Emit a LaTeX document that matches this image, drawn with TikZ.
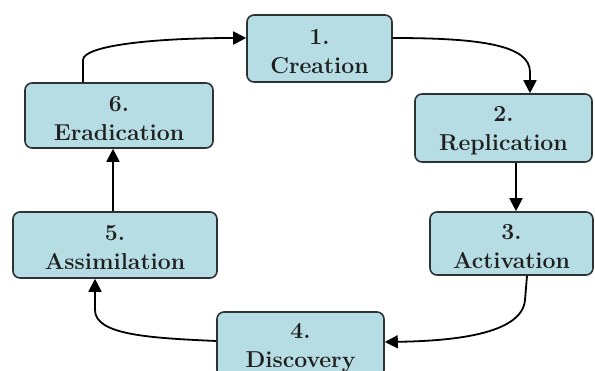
\documentclass[tikz,border=0pt]{standalone}
\usepackage{fontspec}
\usetikzlibrary{arrows.meta}
\definecolor{boxfill}{RGB}{182,220,228}
\definecolor{boxline}{RGB}{45,50,52}
\newcommand{\stagefont}{\fontsize{23pt}{29pt}\selectfont\bfseries}
\newcommand{\topstrut}{\rule{0pt}{21pt}}
\begin{document}
\begin{tikzpicture}[x=1pt,y=-1pt,
 stage/.style={draw=boxline, line width=1.6pt, fill=boxfill, rounded corners=7pt,
   text width=#1, align=center, font=\stagefont, inner sep=0pt, text=black!88},
 flow/.style={line width=1.8pt, -{Triangle[length=13pt,width=13pt]}}]
\clip (0,0) rectangle (595,370);
\fill[white] (0,0) rectangle (595,370);
\node[stage=145pt, minimum height=67pt] (c) at (319.5,48.5) {\topstrut 1.\\Creation};
\node[stage=177pt, minimum height=68pt] (r) at (503.5,128) {\topstrut 2.\\Replication};
\node[stage=163pt, minimum height=63pt] (a) at (511.5,243.5) {\topstrut 3.\\Activation};
\node[stage=167pt, minimum height=65pt] (d) at (300.5,344.5) {\topstrut 4.\\Discovery};
\node[stage=204pt, minimum height=66pt] (s) at (115,245) {\topstrut 5.\\Assimilation};
\node[stage=188pt, minimum height=65pt] (e) at (119,115.5) {\topstrut 6.\\Eradication};

\draw[flow] ([xshift=-36pt]e.north) -- (83,60) .. controls (83,46) and (150,38) .. ([yshift=10.5pt]c.west);
\draw[flow] ([yshift=10.5pt]c.east) .. controls (480,38) and (530,45) .. (530,72) -- ([xshift=26.5pt]r.north);
\draw[flow] ([xshift=12.5pt]r.south) -- ([xshift=4.5pt]a.north);
\draw[flow] ([xshift=15.5pt]a.south) -- (525,300) .. controls (522,335) and (450,341) .. ([yshift=2.5pt]d.east);
\draw[flow] ([yshift=3.5pt]d.west) .. controls (150,338) and (95,335) .. (95,310) -- ([xshift=-20pt]s.south);
\draw[flow] ([xshift=-2pt]s.north) -- ([xshift=-6pt]e.south);
\end{tikzpicture}
\end{document}
